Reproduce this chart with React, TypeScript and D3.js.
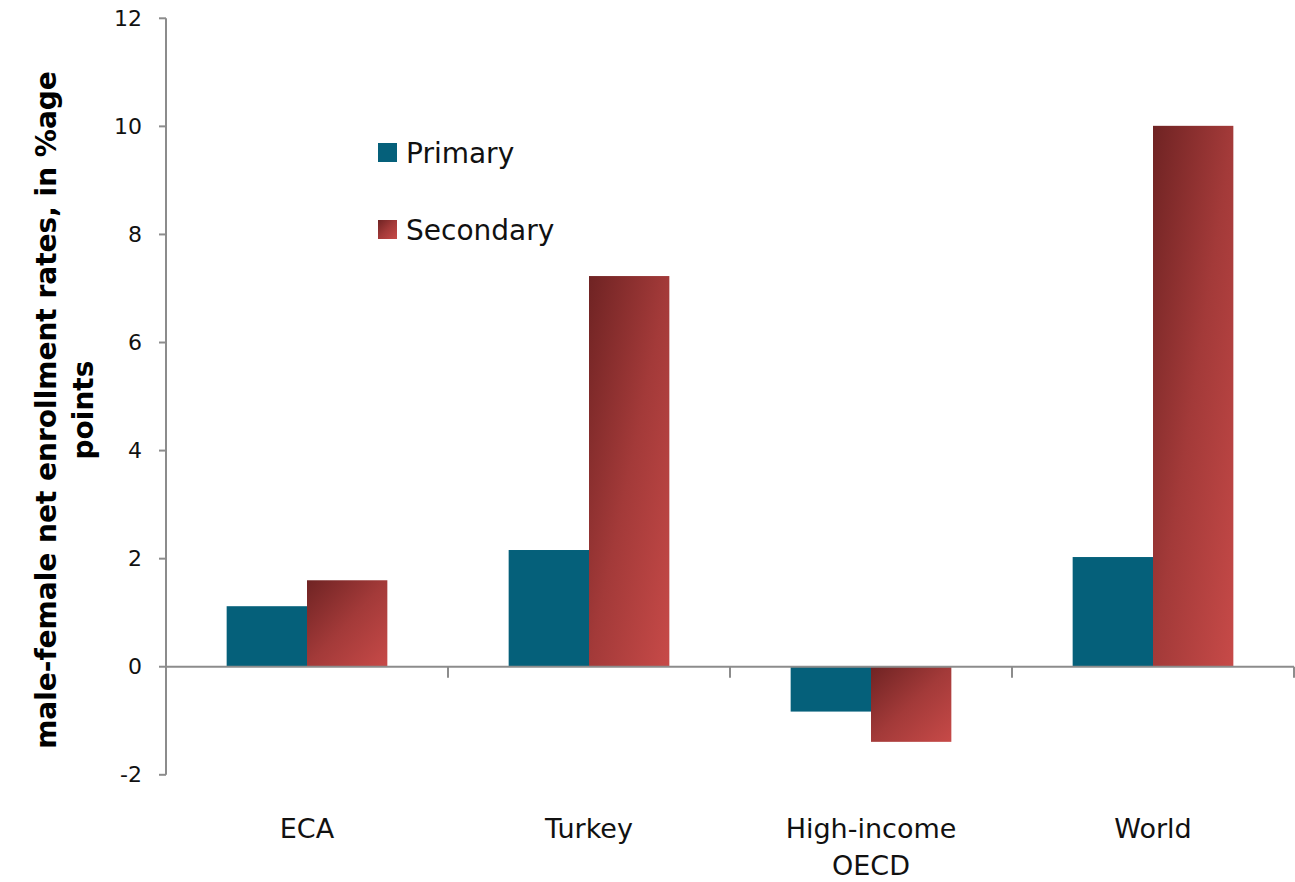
import React from "react";
import * as d3 from "d3";

const categories = ["ECA", "Turkey", "High-income\nOECD", "World"];
const series = ["Primary", "Secondary"];
const primaryValues = [1.12, 2.16, -0.83, 2.03];
const secondaryValues = [1.6, 7.23, -1.39, 10.01];
const yTicks = [-2, 0, 2, 4, 6, 8, 10, 12];
const yTitleLines = ["male-female net enrollment rates, in %age", "points"];

const W = 1295;
const H = 882;
const FONT = "'DejaVu Sans', 'Open Sans', sans-serif";

export default function App() {
  const margin = { left: 166, right: 1, top: 18.3, bottom: H - 774.8 };
  const x0 = d3
    .scaleBand<string>()
    .domain(categories)
    .range([margin.left, W - margin.right])
    .paddingInner(0)
    .paddingOuter(0);
  const x1 = d3
    .scaleBand<string>()
    .domain(series)
    .range([0, x0.bandwidth()])
    .paddingInner(0)
    .paddingOuter(0.755);
  const y = d3.scaleLinear().domain([-2, 12]).range([774.8, 18.3]);

  const valuesBySeries: Record<string, number[]> = {
    Primary: primaryValues,
    Secondary: secondaryValues,
  };
  const axisColor = "#8c8c8c";
  const y0 = y(0);

  return (
    <svg width={W} height={H} style={{ display: "block", position: "absolute", left: 0, top: 0 }}>
      <defs>
        <linearGradient id="secGrad" x1="0" y1="0" x2="1" y2="1">
          <stop offset="0" stopColor="#6f2323" />
          <stop offset="0.5" stopColor="#a33a39" />
          <stop offset="1" stopColor="#c74a48" />
        </linearGradient>
      </defs>
      <rect width={W} height={H} fill="#fff" />

      {/* bars */}
      {categories.map((c, i) =>
        series.map((s) => {
          const v = valuesBySeries[s][i];
          const xp = (x0(c) ?? 0) + (x1(s) ?? 0);
          const top = Math.min(y(v), y0);
          const h = Math.abs(y(v) - y0);
          return (
            <rect
              key={c + s}
              x={xp}
              y={top}
              width={x1.bandwidth()}
              height={h}
              fill={s === "Primary" ? "#05607a" : "url(#secGrad)"}
            />
          );
        })
      )}

      {/* y axis */}
      <line x1={margin.left} x2={margin.left} y1={y(12)} y2={y(-2)} stroke={axisColor} strokeWidth={2} />
      {yTicks.map((t) => (
        <g key={t}>
          <line x1={margin.left - 7} x2={margin.left} y1={y(t)} y2={y(t)} stroke={axisColor} strokeWidth={2} />
          <text
            x={margin.left - 24}
            y={y(t)}
            textAnchor="end"
            dominantBaseline="central"
            fontFamily={FONT}
            fontSize={22}
            fill="#111"
          >
            {t}
          </text>
        </g>
      ))}

      {/* x axis at zero */}
      <line x1={margin.left} x2={W - margin.right} y1={y0} y2={y0} stroke={axisColor} strokeWidth={2} />
      {categories.map((c) => {
        const xr = (x0(c) ?? 0) + x0.bandwidth();
        return <line key={"t" + c} x1={xr} x2={xr} y1={y0} y2={y0 + 11} stroke={axisColor} strokeWidth={2} />;
      })}
      {categories.map((c) => {
        const cx = (x0(c) ?? 0) + x0.bandwidth() / 2;
        const lines = c.split("\n");
        return (
          <text key={"l" + c} x={cx} y={838} textAnchor="middle" fontFamily={FONT} fontSize={27} fill="#111">
            {lines.map((ln, j) => (
              <tspan key={j} x={cx} dy={j === 0 ? 0 : 37}>
                {ln}
              </tspan>
            ))}
          </text>
        );
      })}

      {/* legend */}
      {series.map((s, i) => (
        <g key={"lg" + s} transform={`translate(378, ${143 + i * 77})`}>
          <rect width={19} height={19} fill={s === "Primary" ? "#05607a" : "url(#secGrad)"} />
          <text x={28} y={10.5} dominantBaseline="central" fontFamily={FONT} fontSize={28} fill="#111">
            {s}
          </text>
        </g>
      ))}

      {/* y axis title */}
      <g transform="translate(0, 410) rotate(-90)">
        {yTitleLines.map((ln, j) => (
          <text
            key={j}
            x={0}
            y={56 + j * 37}
            textAnchor="middle"
            fontFamily={FONT}
            fontWeight="bold"
            fontSize={28}
            fill="#000"
          >
            {ln}
          </text>
        ))}
      </g>
    </svg>
  );
}
